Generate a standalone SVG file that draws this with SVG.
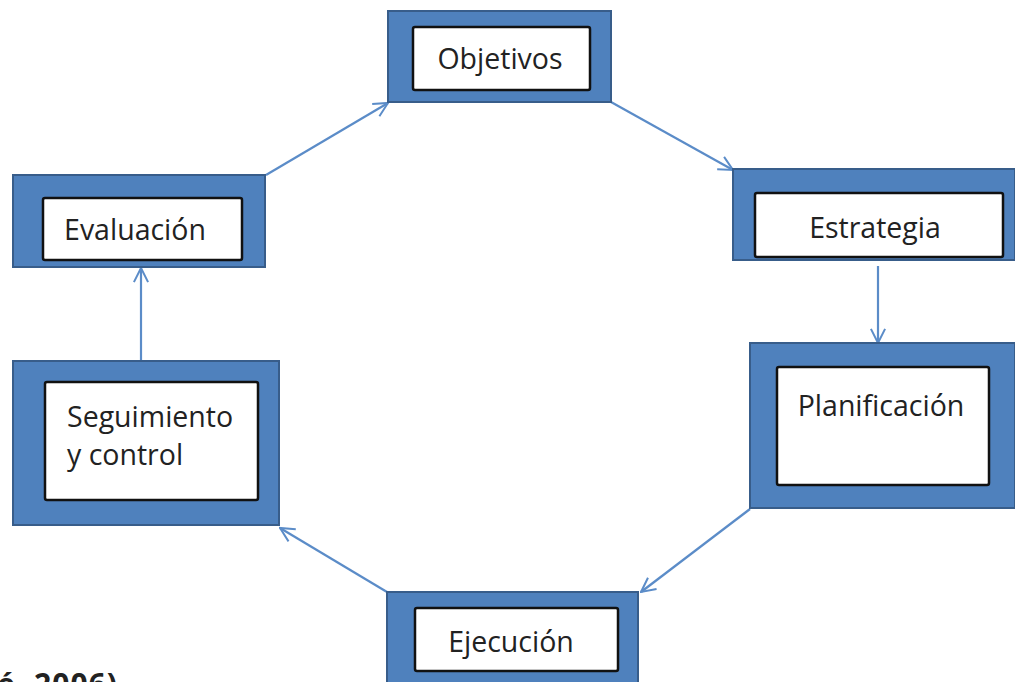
<svg xmlns="http://www.w3.org/2000/svg" width="1015" height="682" viewBox="0 0 1015 682">
  <style>
    .outer { fill: #4f81bd; stroke: #385d8a; stroke-width: 2; }
    .inner { fill: #ffffff; stroke: #111111; stroke-width: 2.5; }
    .label { font-family: "Open Sans", "DejaVu Sans", sans-serif; font-size: 28.5px; fill: #222222; }
    .link { stroke: #5b8cc8; stroke-width: 2.2; fill: none; marker-end: url(#arrow); }
    .note { font-family: "Open Sans", "DejaVu Sans", sans-serif; font-size: 30px; font-weight: bold; fill: #222222; }
  </style>
  <defs>
    <marker id="arrow" viewBox="0 0 12 12" refX="11" refY="6" markerWidth="17" markerHeight="17" markerUnits="userSpaceOnUse" orient="auto">
      <path d="M1,1 L11,6 L1,11" fill="none" stroke="#5b8cc8" stroke-width="1.4"/>
    </marker>
  </defs>
  <rect width="1015" height="682" fill="#ffffff"/>

  <!-- cycle connectors -->
  <g id="connectors">
    <line class="link" x1="266" y1="175" x2="388" y2="103"/>
    <line class="link" x1="611" y1="102" x2="733" y2="170"/>
    <line class="link" x1="878" y1="266" x2="878" y2="343"/>
    <line class="link" x1="750" y1="509" x2="641" y2="592"/>
    <line class="link" x1="387" y1="592" x2="280" y2="528"/>
    <line class="link" x1="141" y1="361" x2="141" y2="268"/>
  </g>

  <g id="objetivos">
    <rect class="outer" x="388" y="11" width="223" height="91"/>
    <rect class="inner" x="413" y="27" width="177" height="63" rx="2"/>
    <text class="label" x="500" y="69" text-anchor="middle">Objetivos</text>
  </g>

  <g id="estrategia">
    <rect class="outer" x="733" y="169" width="282" height="91"/>
    <rect class="inner" x="755" y="193" width="248" height="64" rx="2"/>
    <text class="label" x="875" y="238" text-anchor="middle">Estrategia</text>
  </g>

  <g id="planificacion">
    <rect class="outer" x="750" y="343" width="265" height="165"/>
    <rect class="inner" x="777" y="367" width="212" height="118" rx="2"/>
    <text class="label" x="881" y="416" text-anchor="middle">Planificación</text>
  </g>

  <g id="ejecucion">
    <rect class="outer" x="387" y="592" width="251" height="100"/>
    <rect class="inner" x="415" y="608" width="203" height="63" rx="2"/>
    <text class="label" x="511" y="652" text-anchor="middle">Ejecución</text>
  </g>

  <g id="seguimiento">
    <rect class="outer" x="13" y="361" width="266" height="164"/>
    <rect class="inner" x="45" y="382" width="213" height="118" rx="2"/>
    <text class="label" x="67" y="427">Seguimiento</text>
    <text class="label" x="67" y="465">y control</text>
  </g>

  <g id="evaluacion">
    <rect class="outer" x="13" y="175" width="252" height="92"/>
    <rect class="inner" x="43" y="198" width="199" height="62" rx="2"/>
    <text class="label" x="135" y="240" text-anchor="middle">Evaluación</text>
  </g>

  <!-- source note, running off the lower edge -->
  <text class="note" x="-3" y="695" letter-spacing="1">é, 2006)</text>
</svg>
